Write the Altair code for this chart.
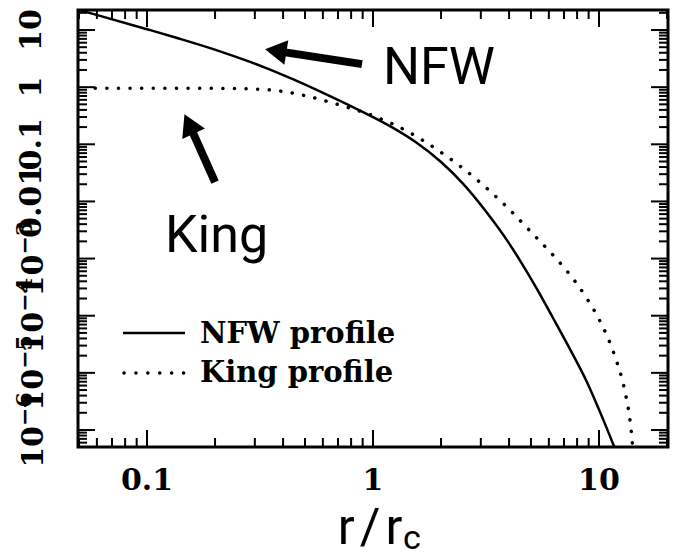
import altair as alt
import pandas as pd

# ---- curve samples: radius r/r_c and density ----
nfw_r = [0.0495, 0.0582, 0.1, 0.1371, 0.1995, 0.2818, 0.3327, 0.4467, 0.631, 0.794,
         1.0, 1.259, 1.549, 1.995, 2.512, 3.162, 3.981, 4.467, 5.32, 6.26, 7.44,
         8.85, 10.42, 11.8, 12.6]
nfw_rho = [22.6, 18.95, 10.33, 7.18, 4.54, 2.818, 2.198, 1.352, 0.726, 0.471,
           0.2985, 0.182, 0.1084, 0.0494, 0.0201, 6.67e-3, 1.905e-3, 9.33e-4,
           2.92e-4, 9.12e-5, 2.6e-5, 6.87e-6, 1.55e-6, 4.6e-7, 2.4e-7]

king_r = [0.059, 0.1, 0.158, 0.251, 0.2985, 0.355, 0.4217, 0.501, 0.708, 1.0, 1.413,
          1.995, 2.818, 3.981, 5.01, 6.26, 7.08, 7.94, 8.91, 10.0, 11.22, 12.02,
          12.59, 13.18, 13.65, 13.96, 14.19]
king_rho = [0.955, 0.955, 0.955, 0.944, 0.923, 0.891, 0.813, 0.708, 0.490, 0.316,
            0.170, 0.0729, 0.0259, 7.46e-3, 2.9e-3, 1.15e-3, 6.61e-4, 3.72e-4,
            1.91e-4, 8.71e-5, 3.24e-5, 1.51e-5, 8.32e-6, 3.8e-6, 1.7e-6, 7.76e-7,
            3.24e-7]

# ---- axis ticks ----
x_major = [0.1, 1, 10]
x_labels = ["0.1", "1", "10"]
x_minor = [0.05, 0.06, 0.07, 0.08, 0.09, 0.2, 0.3, 0.4, 0.5, 0.6, 0.7, 0.8, 0.9,
           2, 3, 4, 5, 6, 7, 8, 9, 20]
y_major = [1e-6, 1e-5, 1e-4, 1e-3, 1e-2, 1e-1, 1, 10]
y_plain = [1e-2, 1e-1, 1, 10]
y_plain_labels = ["0.01", "0.1", "1", "10"]
y_pow = [1e-6, 1e-5, 1e-4, 1e-3]
y_pow_exp = ["−6", "−5", "−4", "−3"]
y_minor = [m * 10.0 ** e for e in range(-7, 2) for m in range(2, 10)
           if 5.1e-7 <= m * 10.0 ** e <= 22]

# ---- annotations: arrow tail, arrow head ----
arrow_nfw_r = [0.894, 0.371]
arrow_nfw_rho = [2.53, 4.32]
arrow_king_r = [0.2, 0.1534]
arrow_king_rho = [0.02175, 0.227]
note_r = [1.107, 0.120]
note_rho = [1.13, 1.29e-3]
note_text = ["NFW", "King"]

W, H = 590, 437
xs = alt.Scale(type="log", domain=[0.0495, 20.2], nice=False)
ys = alt.Scale(type="log", domain=[5.04e-7, 22.4], nice=False)


def X(field="r"):
    return alt.X(f"{field}:Q", scale=xs, axis=None)


def Y(field="rho"):
    return alt.Y(f"{field}:Q", scale=ys, axis=None)


layers = []

# tick marks on all four sides, pointing inward
for vals, length in [(x_major, 17), (x_minor, 9)]:
    d = pd.DataFrame({"v": vals})
    layers.append(alt.Chart(d).mark_rule(color="black", strokeWidth=2).encode(
        x=X("v"), y=alt.value(H), y2=alt.value(H - length)))
    layers.append(alt.Chart(d).mark_rule(color="black", strokeWidth=2).encode(
        x=X("v"), y=alt.value(0), y2=alt.value(length)))
for vals, length in [(y_major, 17), (y_minor, 9)]:
    d = pd.DataFrame({"v": vals})
    layers.append(alt.Chart(d).mark_rule(color="black", strokeWidth=2).encode(
        y=Y("v"), x=alt.value(0), x2=alt.value(length)))
    layers.append(alt.Chart(d).mark_rule(color="black", strokeWidth=2).encode(
        y=Y("v"), x=alt.value(W), x2=alt.value(W - length)))

# profiles
layers.append(alt.Chart(pd.DataFrame({"r": king_r, "rho": king_rho})).mark_line(
    color="black", strokeWidth=3.5, strokeDash=[0.1, 11.5], strokeCap="round",
    interpolate="monotone", clip=True).encode(x=X(), y=Y()))
layers.append(alt.Chart(pd.DataFrame({"r": nfw_r, "rho": nfw_rho})).mark_line(
    color="black", strokeWidth=2.5, interpolate="monotone", clip=True
).encode(x=X(), y=Y()))

serif = "DejaVu Serif"
sans = "Roboto"

# tick labels
layers.append(alt.Chart(pd.DataFrame({"v": x_major, "t": x_labels})).mark_text(
    font=serif, fontWeight="bold", fontSize=30, baseline="alphabetic", align="center"
).encode(x=X("v"), y=alt.value(H + 43), text="t:N"))
layers.append(alt.Chart(pd.DataFrame({"v": y_plain, "t": y_plain_labels})).mark_text(
    font=serif, fontWeight="bold", fontSize=30, baseline="middle", align="center",
    angle=270).encode(y=Y("v"), x=alt.value(-46), text="t:N"))
# powers of ten: mantissa "10" plus a raised exponent, read bottom to top
layers.append(alt.Chart(pd.DataFrame({"v": y_pow, "t": ["10"] * 4})).mark_text(
    font=serif, fontWeight="bold", fontSize=30, baseline="middle", align="center",
    angle=270, dx=-17).encode(y=Y("v"), x=alt.value(-44), text="t:N"))
layers.append(alt.Chart(pd.DataFrame({"v": y_pow, "t": y_pow_exp})).mark_text(
    font=serif, fontWeight="bold", fontSize=22, baseline="middle", align="left",
    angle=270, dx=4, dy=-9).encode(y=Y("v"), x=alt.value(-44), text="t:N"))

# axis title r / r_c
layers.append(alt.Chart(pd.DataFrame({"t": ["r\u200a/\u200ar"]})).mark_text(
    font=sans, fontSize=50, align="center", baseline="alphabetic"
).encode(x=alt.value(292), y=alt.value(534), text="t:N"))
layers.append(alt.Chart(pd.DataFrame({"t": ["c"]})).mark_text(
    font=sans, fontSize=34, align="left", baseline="alphabetic"
).encode(x=alt.value(325), y=alt.value(539), text="t:N"))

# legend
layers.append(alt.Chart(pd.DataFrame({"a": [0]})).mark_rule(
    color="black", strokeWidth=2.5).encode(
    x=alt.value(45), x2=alt.value(107), y=alt.value(323)))
layers.append(alt.Chart(pd.DataFrame({"a": [0]})).mark_rule(
    color="black", strokeWidth=3.5, strokeDash=[0.1, 11.8], strokeCap="round").encode(
    x=alt.value(46), x2=alt.value(108), y=alt.value(363)))
layers.append(alt.Chart(pd.DataFrame({"t": ["NFW profile"]})).mark_text(
    font=serif, fontWeight="bold", fontSize=29, align="left", baseline="alphabetic"
).encode(x=alt.value(122), y=alt.value(333), text="t:N"))
layers.append(alt.Chart(pd.DataFrame({"t": ["King profile"]})).mark_text(
    font=serif, fontWeight="bold", fontSize=29, align="left", baseline="alphabetic"
).encode(x=alt.value(122), y=alt.value(372), text="t:N"))

# arrows
for rs, rhos, ang in [(arrow_nfw_r, arrow_nfw_rho, 279), (arrow_king_r, arrow_king_rho, 335)]:
    layers.append(alt.Chart(pd.DataFrame({"r": rs, "rho": rhos})).mark_line(
        color="black", strokeWidth=8).encode(x=X(), y=Y()))
    layers.append(alt.Chart(pd.DataFrame({"r": rs[1:], "rho": rhos[1:]})).mark_point(
        shape="triangle-up", filled=True, color="black", opacity=1, size=620, angle=ang
    ).encode(x=X(), y=Y()))

layers.append(alt.Chart(pd.DataFrame({"r": note_r, "rho": note_rho, "t": note_text})).mark_text(
    font=sans, fontSize=52, align="left", baseline="alphabetic"
).encode(x=X(), y=Y(), text="t:N"))

chart = alt.layer(*layers).properties(
    width=W, height=H,
    padding={"left": 78, "top": 10, "right": 9, "bottom": 112},
    autosize=alt.AutoSizeParams(type="none"),
    background="white",
).configure_view(stroke="black", strokeWidth=3)

chart.save("out.html", embed_options={"renderer": "svg", "actions": False})
